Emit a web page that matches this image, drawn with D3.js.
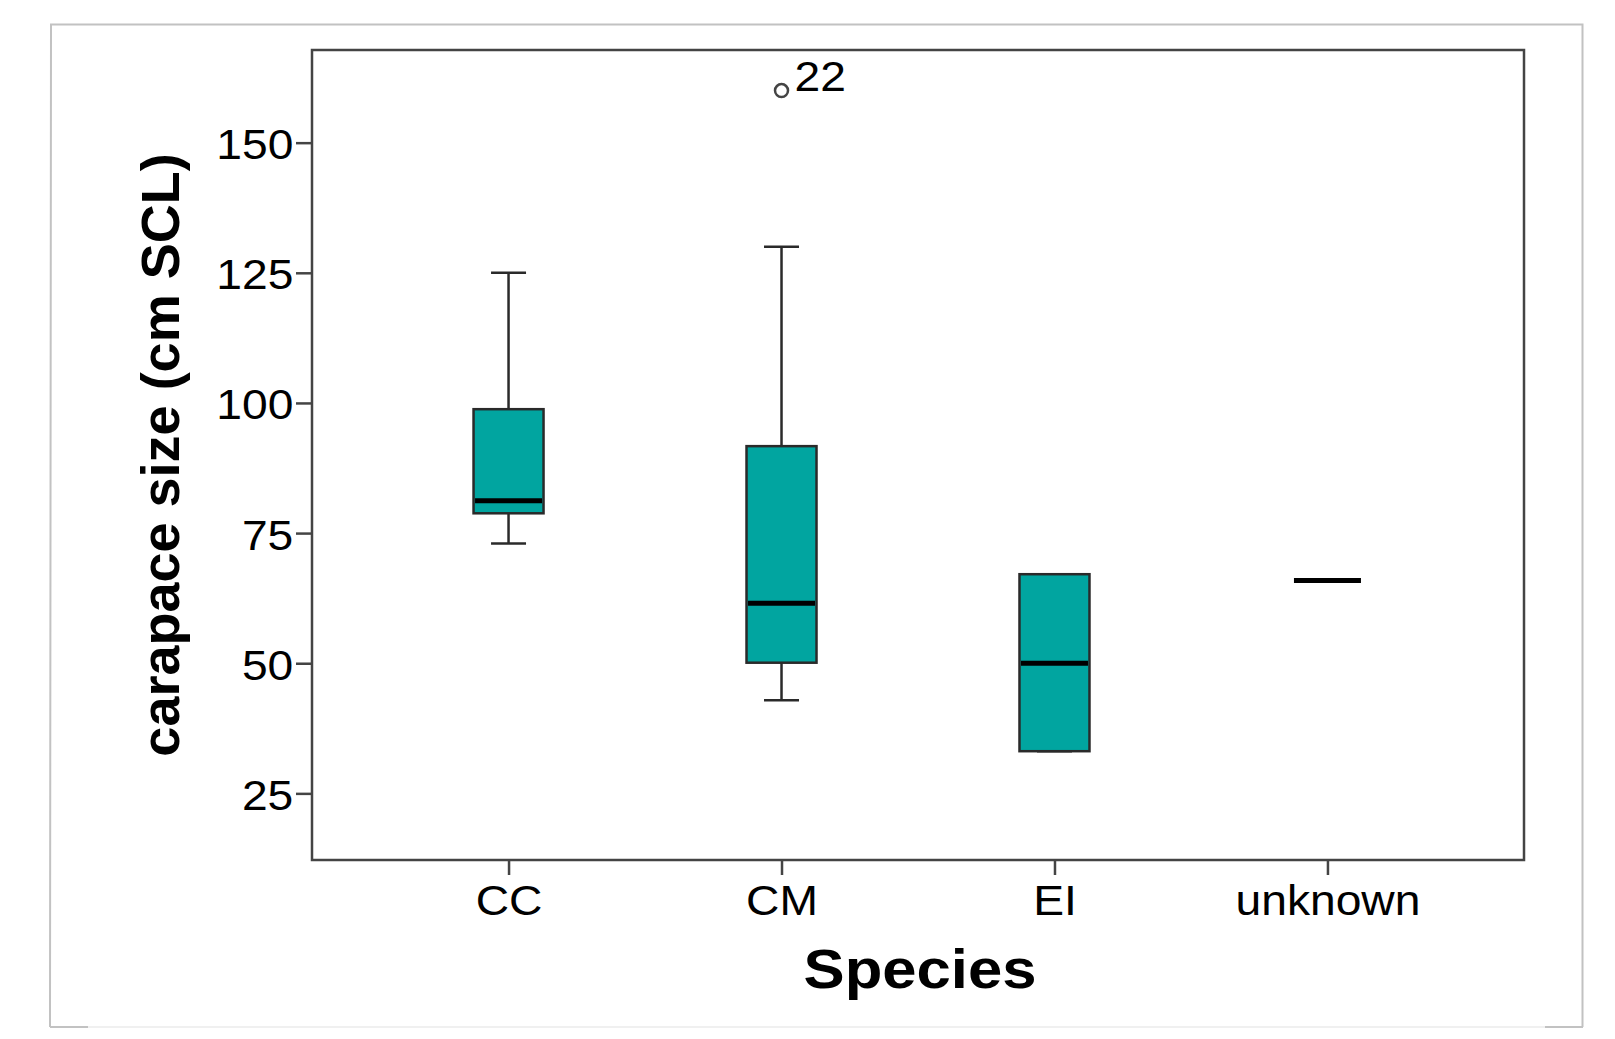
<!DOCTYPE html>
<meta charset="utf-8">
<style>

body { margin: 0; background: #fff; }

.box {
  fill: #01a5a0;
  stroke: #2a2a2a;
  stroke-width: 2.5px;
}

.whisker {
  stroke: #2a2a2a;
  stroke-width: 2.5px;
}

.median {
  stroke: #000;
  stroke-width: 5px;
}

.axis text {
  font-family: "Liberation Sans", Arial, sans-serif;
  font-size: 42px;
  fill: #000;
}

.axis line {
  stroke: #444;
  stroke-width: 2.5px;
}

.title {
  font-family: "Liberation Sans", Arial, sans-serif;
  font-weight: bold;
  fill: #000;
}

</style>
<body>

<script src="https://d3js.org/d3.v7.min.js"></script>
<script>

// box plot values
var species = ["CC", "CM", "EI", "unknown"];
var lowWhisker  = [73.0, 42.9, 33.1, 65.9];
var lowerQuart  = [78.8, 50.1, 33.1, 65.9];
var medians     = [81.2, 61.5, 50.0, 65.9];
var upperQuart  = [98.8, 91.7, 67.1, 65.9];
var highWhisker = [125.0, 130.0, 67.1, 65.9];

// outlying cases
var outlierSpecies = ["CM"];
var outlierValues = [160.0];
var outlierLabels = ["22"];

var yTicks = [25, 50, 75, 100, 125, 150];

// plot area (page coordinates)
var plot = {left: 312, top: 50, right: 1524, bottom: 860};
var stretch = 1.1;   // the original picture is a bit wider than tall

var svg = d3.select("body").append("svg")
    .attr("width", 1615)
    .attr("height", 1039);

// outer light frame
svg.append("path")
    .attr("d", "M50,1027 L51,24.5 L1582.5,24.5 L1582.5,1027")
    .style("fill", "none")
    .style("stroke", "#c2c2c2")
    .style("stroke-width", 2);
svg.append("line")
    .attr("x1", 51).attr("x2", 1582.5).attr("y1", 1027).attr("y2", 1027)
    .style("stroke", "#f0f0f0").style("stroke-width", 2);
svg.append("line")
    .attr("x1", 50).attr("x2", 88).attr("y1", 1027).attr("y2", 1027)
    .style("stroke", "#c2c2c2").style("stroke-width", 2);
svg.append("line")
    .attr("x1", 1545).attr("x2", 1583).attr("y1", 1027).attr("y2", 1027)
    .style("stroke", "#c2c2c2").style("stroke-width", 2);

// scales
var x = d3.scalePoint()
    .domain(species)
    .range([plot.left, plot.right])
    .padding(0.72);

var y = d3.scaleLinear()
    .domain([12.2, 167.8])
    .range([plot.bottom, plot.top]);

var boxWidth = 70;

var rows = species.map(function(s, i) {
  return {
    name: s,
    lo: lowWhisker[i],
    q1: lowerQuart[i],
    med: medians[i],
    q3: upperQuart[i],
    hi: highWhisker[i]
  };
});

// axes
var yAxis = svg.append("g")
    .attr("class", "axis")
    .attr("transform", "translate(" + plot.left + ",0)")
    .call(d3.axisLeft(y).tickValues(yTicks).tickSize(16).tickPadding(1));
yAxis.select(".domain").remove();
yAxis.selectAll("text")
    .attr("dy", "0.38em")
    .attr("transform", "scale(" + stretch + ",1)");

var xAxis = svg.append("g")
    .attr("class", "axis")
    .attr("transform", "translate(0," + plot.bottom + ")")
    .call(d3.axisBottom(x).tickSize(15).tickPadding(0));
xAxis.select(".domain").remove();
xAxis.selectAll(".tick text")
    .attr("y", 0)
    .attr("dy", 0)
    .attr("transform", "translate(0,55) scale(" + stretch + ",1)");

// plot frame
svg.append("rect")
    .attr("x", plot.left)
    .attr("y", plot.top)
    .attr("width", plot.right - plot.left)
    .attr("height", plot.bottom - plot.top)
    .style("fill", "none")
    .style("stroke", "#444")
    .style("stroke-width", 2.5);

// boxes
var g = svg.selectAll(".group")
    .data(rows)
  .enter().append("g")
    .attr("class", "group");

var full = g.filter(function(d) { return d.q3 > d.q1; });

// whisker stems
full.append("line")
    .attr("class", "whisker")
    .attr("x1", function(d) { return x(d.name); })
    .attr("x2", function(d) { return x(d.name); })
    .attr("y1", function(d) { return y(d.hi); })
    .attr("y2", function(d) { return y(d.q3); });
full.append("line")
    .attr("class", "whisker")
    .attr("x1", function(d) { return x(d.name); })
    .attr("x2", function(d) { return x(d.name); })
    .attr("y1", function(d) { return y(d.q1); })
    .attr("y2", function(d) { return y(d.lo); });

// whisker caps
["hi", "lo"].forEach(function(k) {
  full.append("line")
      .attr("class", "whisker")
      .attr("x1", function(d) { return x(d.name) - boxWidth / 4; })
      .attr("x2", function(d) { return x(d.name) + boxWidth / 4; })
      .attr("y1", function(d) { return y(d[k]); })
      .attr("y2", function(d) { return y(d[k]); });
});

full.append("rect")
    .attr("class", "box")
    .attr("x", function(d) { return x(d.name) - boxWidth / 2; })
    .attr("width", boxWidth)
    .attr("y", function(d) { return y(d.q3); })
    .attr("height", function(d) { return y(d.q1) - y(d.q3); });

g.append("line")
    .attr("class", "median")
    .attr("x1", function(d) { return x(d.name) - boxWidth / 2 + 1.5; })
    .attr("x2", function(d) { return x(d.name) + boxWidth / 2 - 1.5; })
    .attr("y1", function(d) { return y(d.med); })
    .attr("y2", function(d) { return y(d.med); });

// outliers
outlierValues.forEach(function(v, i) {
  var cx = x(outlierSpecies[i]), cy = y(v);
  svg.append("circle")
      .attr("cx", cx)
      .attr("cy", cy)
      .attr("r", 6.5)
      .style("fill", "none")
      .style("stroke", "#444")
      .style("stroke-width", 2.5);
  svg.append("text")
      .attr("transform", "translate(" + (cx + 13) + "," + cy + ") scale(" + stretch + ",1)")
      .style("font-family", "'Liberation Sans', Arial, sans-serif")
      .style("font-size", "42px")
      .style("fill", "#000")
      .text(outlierLabels[i]);
});

// axis titles
svg.append("text")
    .attr("class", "title")
    .attr("transform", "translate(920,988) scale(" + stretch + ",1)")
    .style("font-size", "56px")
    .style("text-anchor", "middle")
    .text("Species");

svg.append("text")
    .attr("class", "title")
    .attr("transform", "translate(179,455) rotate(-90)")
    .style("font-size", "54px")
    .style("text-anchor", "middle")
    .text("carapace size (cm SCL)");

</script>
</body>
